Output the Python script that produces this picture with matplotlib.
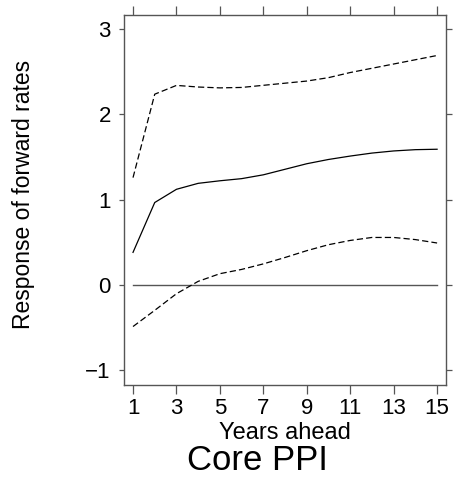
import matplotlib
matplotlib.use("Agg")
import matplotlib.pyplot as plt

years = list(range(1, 16))
response = [0.38, 0.965, 1.12, 1.19, 1.22, 1.245, 1.29, 1.355, 1.42, 1.47, 1.51, 1.545, 1.57, 1.585, 1.59]
upper = [1.257, 2.236, 2.339, 2.32, 2.31, 2.315, 2.34, 2.365, 2.39, 2.43, 2.49, 2.54, 2.59, 2.64, 2.69]
lower = [-0.49, -0.30, -0.105, 0.04, 0.13, 0.18, 0.245, 0.32, 0.40, 0.47, 0.52, 0.555, 0.555, 0.53, 0.49]
xticks = [1, 3, 5, 7, 9, 11, 13, 15]
yticks = [-1, 0, 1, 2, 3]

plt.rcParams['font.family'] = ['Liberation Sans', 'DejaVu Sans']
W, H = 472, 480
fig = plt.figure(figsize=(W / 100, H / 100), dpi=100)
ax = fig.add_axes([124 / W, 1 - 385 / H, (446 - 124) / W, (385 - 15) / H])

gray = '#555555'
ax.plot([years[0], years[-1]], [0, 0], color=gray, lw=1.0)
ax.plot(years, response, color='black', lw=0.9)
ax.plot(years, upper, color='black', lw=0.9, dashes=(5, 2.5))
ax.plot(years, lower, color='black', lw=0.9, dashes=(5, 2.5))

ax.set_xlim(0.585, 15.41)
ax.set_ylim(-1.176, 3.165)
ax.set_xticks(xticks)
ax.set_yticks(yticks)
ax.set_xticklabels([str(v) for v in xticks])
ax.set_yticklabels(['\u22121' if v < 0 else str(v) for v in yticks])

for s in ax.spines.values():
    s.set_color(gray)
    s.set_linewidth(1.0)

ax.tick_params(axis='x', which='both', direction='out', length=6.5, width=0.9, color=gray,
               top=True, bottom=True, labelsize=16, pad=2.5)
ax.tick_params(axis='y', which='both', direction='out', length=3.5, width=0.9, color=gray,
               left=True, right=True, labelsize=16, pad=6)
for t in ax.yaxis.get_major_ticks():
    t.tick2line.set_markersize(4.5)

fig.text(285 / W, 1 - 433 / H, 'Years ahead', ha='center', va='center', fontsize=17)
fig.text(257 / W, 1 - 460 / H, 'Core PPI', ha='center', va='center', fontsize=25)
fig.text(24 / W, 1 - 194 / H, 'Response of forward rates', ha='center', va='center',
         rotation=90, fontsize=16.5)

fig.savefig('out.png', dpi=100)
